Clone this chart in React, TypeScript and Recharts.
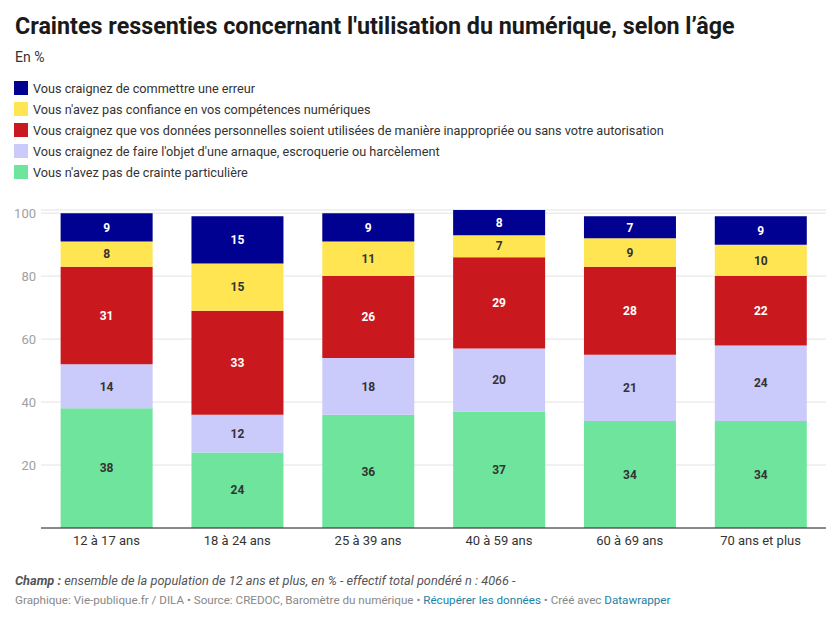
import { BarChart, Bar, XAxis, YAxis, CartesianGrid, LabelList } from "recharts";

const ages = ["12 à 17 ans", "18 à 24 ans", "25 à 39 ans", "40 à 59 ans", "60 à 69 ans", "70 ans et plus"];

// stacked bottom -> top
const pasDeCrainte = [38, 24, 36, 37, 34, 34];
const arnaque = [14, 12, 18, 20, 21, 24];
const donnees = [31, 33, 26, 29, 28, 22];
const confiance = [8, 15, 11, 7, 9, 10];
const erreur = [9, 15, 9, 8, 7, 9];

const yTicks = [20, 40, 60, 80, 100];

const series = [
  { key: "erreur", label: "Vous craignez de commettre une erreur", color: "#000091", text: "#ffffff" },
  { key: "confiance", label: "Vous n'avez pas confiance en vos compétences numériques", color: "#ffe552", text: "#333333" },
  { key: "donnees", label: "Vous craignez que vos données personnelles soient utilisées de manière inappropriée ou sans votre autorisation", color: "#c9191e", text: "#ffffff" },
  { key: "arnaque", label: "Vous craignez de faire l'objet d'une arnaque, escroquerie ou harcèlement", color: "#cacafb", text: "#333333" },
  { key: "pasDeCrainte", label: "Vous n'avez pas de crainte particulière", color: "#6fe49d", text: "#333333" },
];

const data = ages.map((age, i) => ({
  age,
  pasDeCrainte: pasDeCrainte[i],
  arnaque: arnaque[i],
  donnees: donnees[i],
  confiance: confiance[i],
  erreur: erreur[i],
}));

const font = "Roboto, 'Noto Sans', sans-serif";

export default function App() {
  const stackOrder = [...series].reverse();
  return (
    <div
      style={{
        position: "absolute",
        left: 0,
        top: 0,
        width: 826,
        height: 625,
        background: "#fff",
        fontFamily: font,
        color: "#333",
        overflow: "hidden",
      }}
    >
      <div style={{ position: "absolute", left: 15, top: 12, fontSize: 23.3, fontWeight: 700, color: "#1a1a1a", whiteSpace: "nowrap" }}>
        Craintes ressenties concernant l'utilisation du numérique, selon l’âge
      </div>
      <div style={{ position: "absolute", left: 15, top: 49, fontSize: 14, color: "#333" }}>En %</div>

      {series.map((s, i) => (
        <div
          key={s.key}
          style={{ position: "absolute", left: 14, top: 81 + i * 21, height: 14, display: "flex", alignItems: "center", whiteSpace: "nowrap" }}
        >
          <span style={{ display: "inline-block", width: 14, height: 14, background: s.color, marginRight: 5 }} />
          <span style={{ fontSize: 12.7, color: "#333" }}>{s.label}</span>
        </div>
      ))}

      <div style={{ position: "absolute", left: 0, top: 200 }}>
        <BarChart width={826} height={360} data={data} margin={{ top: 10, right: 0, bottom: 2, left: 0 }} barCategoryGap="15%">
          <CartesianGrid vertical={false} stroke="#e3e3e3" />
          <XAxis
            dataKey="age"
            axisLine={{ stroke: "#222", strokeWidth: 1 }}
            tickLine={false}
            height={30}
            tick={{ fill: "#333", fontSize: 13, fontFamily: font }}
          />
          <YAxis
            width={41}
            domain={[0, 101]}
            allowDataOverflow
            ticks={yTicks}
            axisLine={false}
            tickLine={false}
            tickSize={3}
            tickMargin={2}
            tick={{ fill: "#a0a0a0", fontSize: 13, fontFamily: font }}
          />
          {stackOrder.map((s) => (
            <Bar key={s.key} dataKey={s.key} stackId="a" fill={s.color} isAnimationActive={false}>
              <LabelList
                dataKey={s.key}
                position="center"
                fill={s.text}
                style={{ fontSize: 12, fontWeight: 700, fontFamily: font }}
              />
            </Bar>
          ))}
        </BarChart>
      </div>

      <div style={{ position: "absolute", left: 15, top: 573, fontSize: 12.75, fontStyle: "italic", color: "#555", whiteSpace: "nowrap" }}>
        <b>Champ :</b> ensemble de la population de 12 ans et plus, en % - effectif total pondéré n : 4066 -
      </div>
      <div style={{ position: "absolute", left: 15, top: 593, fontSize: 11.65, color: "#888", whiteSpace: "nowrap" }}>
        Graphique: Vie-publique.fr / DILA • Source: CREDOC, Baromètre du numérique •{" "}
        <span style={{ color: "#1d81a2" }}>Récupérer les données</span> • Créé avec{" "}
        <span style={{ color: "#1d81a2" }}>Datawrapper</span>
      </div>
    </div>
  );
}
